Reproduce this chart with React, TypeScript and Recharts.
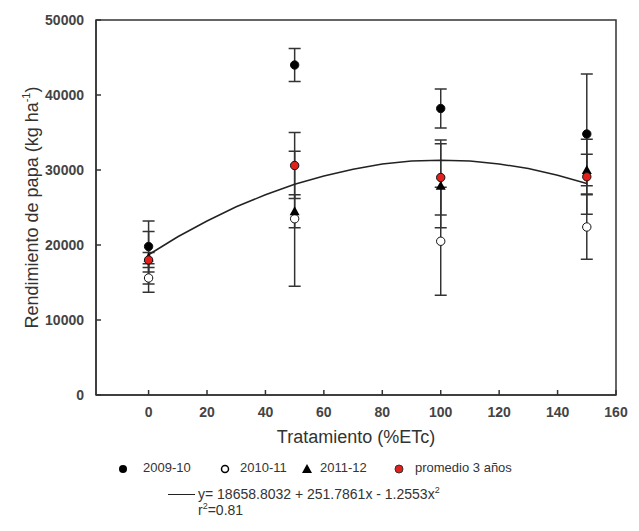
import { ComposedChart, Scatter, XAxis, YAxis, ErrorBar, ReferenceArea } from "recharts";

// Tratamientos (% ETc)
const treatments = [0, 50, 100, 150];

// Rendimiento por campaña (kg/ha) y su error
const y0910 = [19800, 44000, 38200, 34800];
const e0910 = [3400, 2200, 2600, 8000];
const y1011 = [15600, 23500, 20500, 22400];
const e1011 = [1900, 9000, 7200, 4300];
const y1112 = [18300, 24500, 27900, 30000];
const e1112 = [3500, 2200, 5600, 2100];
const yProm = [18000, 30600, 29000, 29100];
const eProm = [1000, 4400, 5000, 5000];

// Curva ajustada
const fitX = [0, 10, 20, 30, 40, 50, 60, 70, 80, 90, 100, 110, 120, 130, 140, 150];
const fitY = [18700, 21100, 23200, 25100, 26700, 28100, 29200, 30100, 30800, 31200, 31300, 31200, 30800, 30200, 29300, 28200];

const xTicks = [0, 20, 40, 60, 80, 100, 120, 140, 160];
const yTicks = [0, 10000, 20000, 30000, 40000, 50000];
const xDomain = [-18, 160];
const yDomain = [0, 50000];

const AXIS = "#333";
const FONT = "'Liberation Sans', Arial, sans-serif";

const toPoints = (ys: number[], es: number[]) =>
  treatments.map((x, i) => ({ x, y: ys[i], err: es[i] }));

const fitData = fitX.map((x, i) => ({ x, y: fitY[i] }));

const Dot = ({ cx, cy, fill }: any) => (
  <circle cx={cx} cy={cy} r={4.2} fill={fill} stroke="#111" strokeWidth={1} />
);
const Tri = ({ cx, cy }: any) => (
  <path d={`M${cx},${cy - 5}L${cx + 5},${cy + 4}L${cx - 5},${cy + 4}Z`} fill="#000" />
);

const YTitle = ({ viewBox }: any) => {
  const cx = viewBox.x + 24;
  const cy = viewBox.y + viewBox.height / 2;
  return (
    <text
      x={cx}
      y={cy}
      transform={`rotate(-90 ${cx} ${cy})`}
      textAnchor="middle"
      dominantBaseline="central"
      fontFamily={FONT}
      fontSize={18}
      fill="#333"
    >
      Rendimiento de papa (kg ha<tspan baselineShift="super" fontSize={11}>-1</tspan>)
    </text>
  );
};

const tickStyle = { fontSize: 14, fontWeight: 700, fill: "#444", fontFamily: FONT };

export default function App() {
  return (
    <div style={{ position: "relative", width: 620, height: 515, fontFamily: FONT, color: "#333" }}>
      <ComposedChart width={620} height={460} margin={{ top: 12, right: 12, left: 0, bottom: 0 }}>
        <XAxis
          dataKey="x"
          type="number"
          domain={xDomain}
          ticks={xTicks}
          tickSize={-5}
          tickMargin={17}
          tick={tickStyle}
          stroke={AXIS}
          strokeWidth={1.5}
          height={73}
          label={{
            value: "Tratamiento (%ETc)",
            position: "insideBottom",
            offset: 25,
            style: { fontSize: 18, fill: "#333", fontFamily: FONT },
          }}
        />
        <YAxis
          dataKey="y"
          type="number"
          domain={yDomain}
          ticks={yTicks}
          tickSize={-5}
          tickMargin={17}
          tick={tickStyle}
          stroke={AXIS}
          strokeWidth={1.5}
          width={88}
          label={<YTitle />}
        />
        <ReferenceArea
          x1={xDomain[0]}
          x2={xDomain[1]}
          y1={yDomain[0]}
          y2={yDomain[1]}
          fill="none"
          fillOpacity={0}
          stroke={AXIS}
          strokeWidth={1.5}
        />
        <Scatter data={fitData} line={{ stroke: "#222", strokeWidth: 1.5 }} lineType="joint" shape={() => null} isAnimationActive={false} />
        <Scatter data={toPoints(y1011, e1011)} shape={(p: any) => <Dot {...p} fill="#fff" />} isAnimationActive={false}>
          <ErrorBar dataKey="err" direction="y" width={6} stroke={AXIS} strokeWidth={1.5} />
        </Scatter>
        <Scatter data={toPoints(y1112, e1112)} shape={(p: any) => <Tri {...p} />} isAnimationActive={false}>
          <ErrorBar dataKey="err" direction="y" width={6} stroke={AXIS} strokeWidth={1.5} />
        </Scatter>
        <Scatter data={toPoints(y0910, e0910)} shape={(p: any) => <Dot {...p} fill="#000" />} isAnimationActive={false}>
          <ErrorBar dataKey="err" direction="y" width={6} stroke={AXIS} strokeWidth={1.5} />
        </Scatter>
        <Scatter data={toPoints(yProm, eProm)} shape={(p: any) => <Dot {...p} fill="#e3201b" />} isAnimationActive={false}>
          <ErrorBar dataKey="err" direction="y" width={6} stroke={AXIS} strokeWidth={1.5} />
        </Scatter>
      </ComposedChart>

      <div style={{ position: "absolute", top: 453, left: 0, width: 620, height: 16, fontSize: 13 }}>
        <svg style={{ position: "absolute", left: 110, top: 3 }} width={10} height={10}><circle cx={5} cy={5} r={4} fill="#000" /></svg>
        <span style={{ position: "absolute", left: 135, top: -1 }}>2009-10</span>
        <svg style={{ position: "absolute", left: 212, top: 3 }} width={10} height={10}><circle cx={5} cy={5} r={3.5} fill="#fff" stroke="#000" strokeWidth={1.5} /></svg>
        <span style={{ position: "absolute", left: 232, top: -1 }}>2010-11</span>
        <svg style={{ position: "absolute", left: 294, top: 3 }} width={10} height={10}><path d="M5,0L10,9L0,9Z" fill="#000" /></svg>
        <span style={{ position: "absolute", left: 312, top: -1 }}>2011-12</span>
        <svg style={{ position: "absolute", left: 386, top: 3 }} width={10} height={10}><circle cx={5} cy={5} r={4} fill="#e3201b" stroke="#333" strokeWidth={1} /></svg>
        <span style={{ position: "absolute", left: 407, top: -1 }}>promedio 3 años</span>
      </div>
      <div style={{ position: "absolute", top: 478, left: 0, width: 620, fontSize: 14, lineHeight: "14px" }}>
        <div style={{ position: "absolute", left: 160, top: 8, width: 27, borderTop: "1.5px solid #222" }} />
        <span style={{ position: "absolute", left: 190, top: 1 }}>
          y= 18658.8032 + 251.7861x - 1.2553x<sup style={{ fontSize: 9, lineHeight: 0 }}>2</sup>
        </span>
        <span style={{ position: "absolute", left: 190, top: 17 }}>
          r<sup style={{ fontSize: 9, lineHeight: 0 }}>2</sup>=0.81
        </span>
      </div>
    </div>
  );
}
